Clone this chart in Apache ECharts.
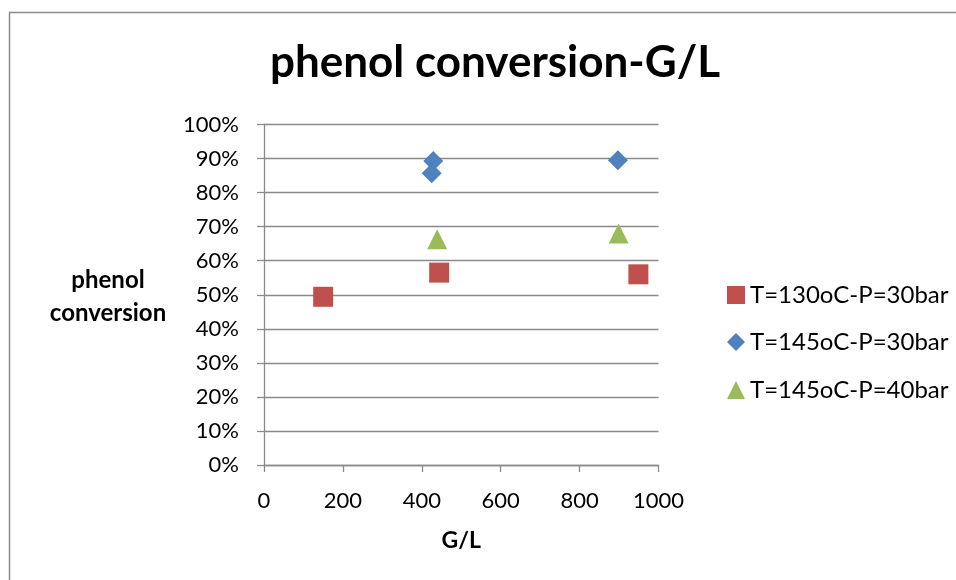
<!DOCTYPE html>
<html>
<head>
<meta charset="utf-8">
<script src="https://cdn.jsdelivr.net/npm/echarts@6/dist/echarts.min.js"></script>
<style>
  html, body { margin: 0; padding: 0; background: #fff; }
  #chart { width: 956px; height: 580px; }
</style>
</head>
<body>
<div id="chart"></div>
<script>
// Series data: G/L ratio vs. phenol conversion (fraction)
const seriesNames = ['T=130oC-P=30bar', 'T=145oC-P=30bar', 'T=145oC-P=40bar'];
const gl130_30 = [150, 444, 949];
const conv130_30 = [0.494, 0.565, 0.560];
const gl145_30 = [429, 425, 897];
const conv145_30 = [0.893, 0.857, 0.895];
const gl145_40 = [439, 899];
const conv145_40 = [0.663, 0.680];

const colors = ['#C0504D', '#4F81BD', '#9BBB59'];
const symbols = ['rect', 'diamond', 'triangle'];
const FONT = 'Lato, "Open Sans", sans-serif';
const gridColor = '#8a8a8a';

function pairs(xs, ys) { return xs.map((x, i) => [x, ys[i]]); }

const chart = echarts.init(document.getElementById('chart'));

const legendRows = [283, 330, 378];

chart.setOption({
  animation: false,
  backgroundColor: '#fff',
  title: {
    text: 'phenol conversion-G/L',
    left: 490,
    textAlign: 'center',
    top: 36,
    textStyle: { fontFamily: FONT, fontWeight: 'bold', fontSize: 44, color: '#000' }
  },
  grid: { left: 264, top: 124.5, width: 394.5, height: 340.5, containLabel: false },
  xAxis: {
    type: 'value', min: 0, max: 1000, interval: 200,
    name: 'G/L', nameLocation: 'middle', nameGap: 64,
    nameTextStyle: { fontFamily: FONT, fontWeight: 'bold', fontSize: 23, color: '#000' },
    axisLine: { show: true, onZero: false, lineStyle: { color: gridColor, width: 1.3 } },
    axisTick: { show: true, length: 7, lineStyle: { color: gridColor, width: 1.3 } },
    axisLabel: { margin: 25, fontFamily: FONT, fontSize: 22, color: '#000', formatter: v => String(v) },
    splitLine: { show: false }
  },
  yAxis: {
    type: 'value', min: 0, max: 1, interval: 0.1,
    axisLine: { show: true, lineStyle: { color: gridColor, width: 1.3 } },
    axisTick: { show: true, length: 7, lineStyle: { color: gridColor, width: 1.3 } },
    axisLabel: {
      margin: 25, fontFamily: FONT, fontSize: 22, color: '#000',
      formatter: v => Math.round(v * 100) + '%'
    },
    splitLine: { show: true, lineStyle: { color: gridColor, width: 1.3 } }
  },
  legend: seriesNames.map((name, i) => ({
    data: [{ name: name, icon: symbols[i] }],
    orient: 'vertical',
    left: 727,
    top: legendRows[i],
    padding: 0,
    itemWidth: 18,
    itemHeight: 18,
    itemGap: 0,
    selectedMode: false,
    textStyle: { fontFamily: FONT, fontSize: 24, color: '#000', padding: [0, 0, 0, 0] }
  })),
  graphic: [
    {
      type: 'rect', silent: true,
      shape: { x: 9.5, y: 12.5, width: 980, height: 620 },
      style: { fill: null, stroke: '#8c8c8c', lineWidth: 1.5 }
    },
    {
      type: 'text', silent: true, x: 108, y: 297,
      style: {
        text: 'phenol\nconversion',
        textAlign: 'center', textVerticalAlign: 'middle',
        font: 'bold 24px ' + FONT, fill: '#000', lineHeight: 33
      }
    }
  ],
  series: [
    {
      name: seriesNames[0], type: 'scatter', symbol: symbols[0], symbolSize: 20,
      itemStyle: { color: colors[0], opacity: 1 }, data: pairs(gl130_30, conv130_30)
    },
    {
      name: seriesNames[1], type: 'scatter', symbol: symbols[1], symbolSize: 20,
      itemStyle: { color: colors[1], opacity: 1 }, data: pairs(gl145_30, conv145_30)
    },
    {
      name: seriesNames[2], type: 'scatter', symbol: symbols[2], symbolSize: 20,
      itemStyle: { color: colors[2], opacity: 1 }, data: pairs(gl145_40, conv145_40)
    }
  ]
});
</script>
</body>
</html>
